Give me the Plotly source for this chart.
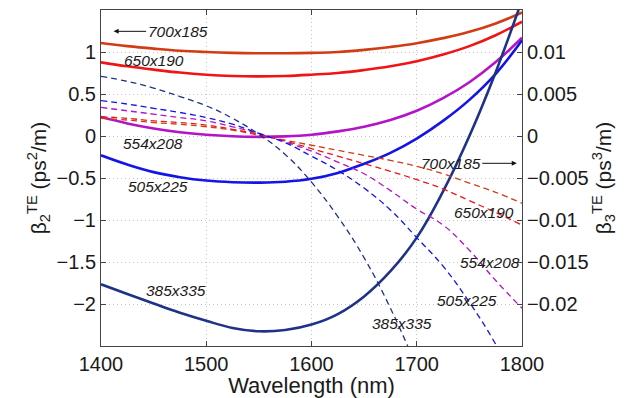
import plotly.graph_objects as go

wavelength = [1400, 1425, 1450, 1475, 1500, 1525, 1550, 1575, 1600,
              1625, 1650, 1675, 1700, 1725, 1750, 1775, 1800]

# beta2 (ps^2/m), left axis
b2_700x185 = [1.107, 1.07, 1.04, 1.015, 1.0, 0.99, 0.985, 0.985, 0.99,
              1.0, 1.025, 1.06, 1.105, 1.165, 1.24, 1.34, 1.47]
b2_650x190 = [0.877, 0.83, 0.79, 0.755, 0.73, 0.715, 0.71, 0.715, 0.73,
              0.75, 0.785, 0.83, 0.89, 0.97, 1.07, 1.20, 1.36]
b2_554x208 = [0.226, 0.15, 0.09, 0.045, 0.015, -0.003, -0.01, -0.005, 0.015,
              0.055, 0.11, 0.19, 0.30, 0.45, 0.64, 0.88, 1.17]
b2_505x225 = [-0.23, -0.34, -0.43, -0.49, -0.53, -0.55, -0.555, -0.545, -0.51,
              -0.44, -0.33, -0.20, -0.03, 0.18, 0.43, 0.74, 1.14]
b2_385x335 = [-1.765, -1.88, -1.995, -2.105, -2.20, -2.285, -2.325, -2.31, -2.245,
              -2.12, -1.91, -1.61, -1.21, -0.66, 0.0, 0.76, 1.62]

# beta3 (ps^3/m), right axis
b3_700x185 = [0.0021, 0.0019, 0.0016, 0.0014, 0.0011, 0.0007, 0.0001, -0.0005, -0.0011,
              -0.0017, -0.0023, -0.0029, -0.0036, -0.0045, -0.0056, -0.0067, -0.0080]
b3_650x190 = [0.0023, 0.0021, 0.0018, 0.0016, 0.0013, 0.0008, 0.0002, -0.0006, -0.0015,
              -0.0024, -0.0033, -0.0042, -0.0052, -0.0063, -0.0077, -0.0091, -0.0106]
b3_554x208 = [0.0034, 0.0030, 0.0026, 0.0022, 0.0018, 0.0011, 0.0003, -0.0007, -0.0018,
              -0.0031, -0.0045, -0.0065, -0.0087, -0.0106, -0.0136, -0.0172, -0.0205]
b3_505x225 = [0.0042, 0.0038, 0.0033, 0.0028, 0.0022, 0.0014, 0.0003, -0.0008, -0.0024,
              -0.0041, -0.0062, -0.0088, -0.0121, -0.0155, -0.0198, -0.0248, -0.031]
b3_385x335 = [0.0071, 0.0065, 0.0057, 0.0047, 0.0036, 0.0021, 0.0002, -0.0022, -0.0055,
              -0.0096, -0.0145, -0.0205, -0.0275, None, None, None, None]

names = ["700x185", "650x190", "554x208", "505x225", "385x335"]
colors = ["#d23c14", "#f01414", "#b414c8", "#1414e6", "#1e3288"]
b2_series = [b2_700x185, b2_650x190, b2_554x208, b2_505x225, b2_385x335]
b3_series = [b3_700x185, b3_650x190, b3_554x208, b3_505x225, b3_385x335]

x_ticks = [1400, 1500, 1600, 1700, 1800]
y_ticks = [1, 0.5, 0, -0.5, -1, -1.5, -2]
y_ticktext = ["1", "0.5", "0", "\u22120.5", "\u22121", "\u22121.5", "\u22122"]
y2_ticks = [0.01, 0.005, 0, -0.005, -0.01, -0.015, -0.02]
y2_ticktext = ["0.01", "0.005", "0", "\u22120.005", "\u22120.01", "\u22120.015", "\u22120.02"]

fig = go.Figure()

for name, col, ys in zip(names, colors, b3_series):
    fig.add_trace(go.Scatter(x=wavelength, y=ys, yaxis="y2", mode="lines",
                             line=dict(color=col, width=1.3, dash="6px,4px",
                                       shape="spline", smoothing=1.2),
                             name=name + " b3", showlegend=False,
                             connectgaps=False))
for name, col, ys in zip(names, colors, b2_series):
    fig.add_trace(go.Scatter(x=wavelength, y=ys, mode="lines",
                             line=dict(color=col, width=2.6, shape="spline",
                                       smoothing=1.2),
                             name=name + " b2", showlegend=False))

font_family = "Liberation Sans, Arial, Helvetica, sans-serif"
lab_font = dict(family=font_family, size=15.5, color="#1a1a1a")

annotations = [
    dict(x=1412, y=1.246, ax=64, ay=0, text="<i>700x185</i>", showarrow=True,
         arrowhead=2, arrowsize=1, arrowwidth=1, arrowcolor="#111"),
    dict(x=1795, y=-0.325, ax=-66, ay=0, text="<i>700x185</i>", showarrow=True,
         arrowhead=2, arrowsize=1, arrowwidth=1, arrowcolor="#111"),
    dict(x=1450.3, y=0.895, text="<i>650x190</i>", showarrow=False),
    dict(x=1449, y=-0.087, text="<i>554x208</i>", showarrow=False),
    dict(x=1454.6, y=-0.60, text="<i>505x225</i>", showarrow=False),
    dict(x=1471.7, y=-1.837, text="<i>385x335</i>", showarrow=False),
    dict(x=1763.7, y=-0.905, text="<i>650x190</i>", showarrow=False),
    dict(x=1769.4, y=-1.50, text="<i>554x208</i>", showarrow=False),
    dict(x=1748, y=-1.956, text="<i>505x225</i>", showarrow=False),
    dict(x=1685.8, y=-2.23, text="<i>385x335</i>", showarrow=False),
]
for a in annotations:
    a.update(xref="x", yref="y", font=lab_font)

grid = dict(showgrid=True, gridcolor="#c4c4c4", griddash="1px,3px", gridwidth=1)

fig.update_layout(
    width=621, height=390,
    margin=dict(l=93, r=107, t=2, b=52),
    paper_bgcolor="white", plot_bgcolor="white",
    font=dict(family=font_family, size=20, color="#1a1a1a"),
    annotations=annotations,
    xaxis=dict(range=[1400, 1800], tickvals=x_ticks, ticks="inside", ticklen=5,
               tickcolor="#444", showline=True, linecolor="#444", linewidth=1,
               mirror="ticks", zeroline=False,
               title=dict(text="Wavelength (nm)", font=dict(size=22), standoff=0),
               tickfont=dict(size=20), automargin=False, **grid),
    yaxis=dict(range=[-2.5, 1.5], tickvals=y_ticks, ticktext=y_ticktext,
               ticks="inside", ticklen=5, tickcolor="#444", showline=True,
               linecolor="#444", linewidth=1, zeroline=False,
               title=dict(text="\u03b2<sub>2</sub><sup>TE</sup> (ps<sup>2</sup>/m)",
                          font=dict(size=21), standoff=4),
               tickfont=dict(size=20), automargin=False, **grid),
    yaxis2=dict(range=[-0.025, 0.015], overlaying="y", side="right",
                tickvals=y2_ticks, ticktext=y2_ticktext, ticks="inside",
                ticklen=5, tickcolor="#444", showline=True, linecolor="#444",
                linewidth=1, zeroline=False, showgrid=False,
                title=dict(text="\u03b2<sub>3</sub><sup>TE</sup> (ps<sup>3</sup>/m)",
                           font=dict(size=21), standoff=2),
                tickfont=dict(size=20), automargin=False),
)

fig.write_html("out.html")
